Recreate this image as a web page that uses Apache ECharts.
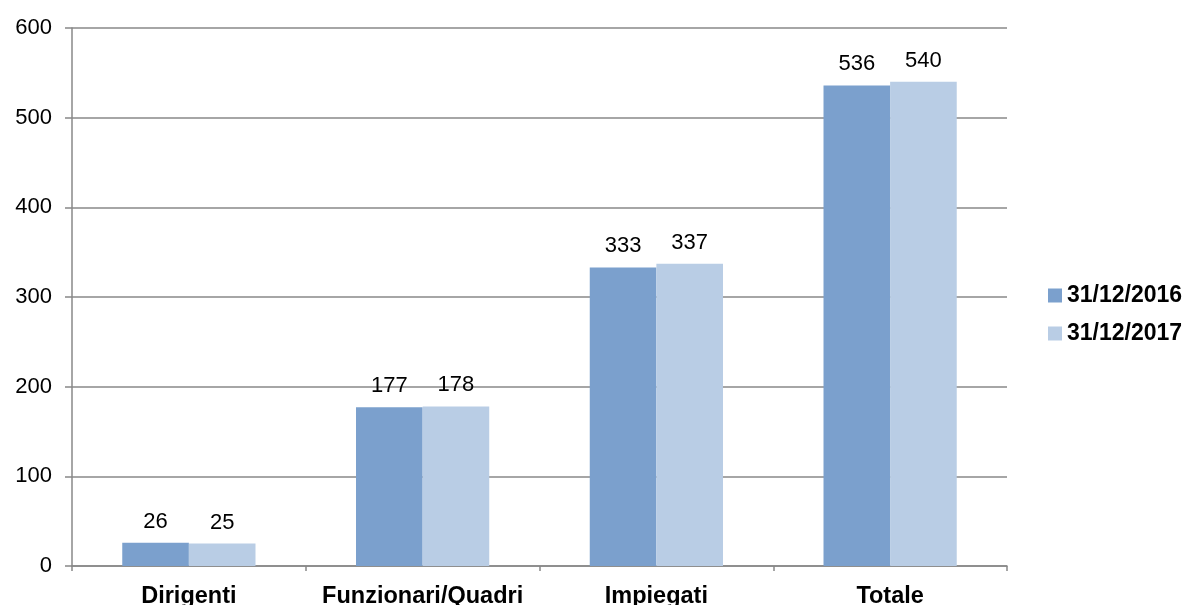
<!DOCTYPE html>
<html><head><meta charset="utf-8">
<script src="https://cdn.jsdelivr.net/npm/echarts@6/dist/echarts.min.js"></script>
<style>html,body{margin:0;padding:0;background:#fff}#c{width:1184px;height:605px}</style>
</head><body><div id="c"></div>
<script>
const categories = ['Dirigenti', 'Funzionari/Quadri', 'Impiegati', 'Totale'];
const series2016 = [26, 177, 333, 536];
const series2017 = [25, 178, 337, 540];
const seriesNames = ['31/12/2016', '31/12/2017'];
const yTicks = [0, 100, 200, 300, 400, 500, 600];

const chart = echarts.init(document.getElementById('c'));
const font = '"Liberation Sans", Arial, sans-serif';
const lbl = {show: true, position: 'top', color: '#000', fontSize: 22, fontFamily: font, distance: 10};
chart.setOption({
  animation: false,
  grid: {left: 72, right: 177, top: 28, bottom: 39, containLabel: false, outerBoundsMode: 'none'},
  legend: {
    orient: 'vertical', left: 1043, top: 279, itemWidth: 14, itemHeight: 14, itemGap: 15,
    icon: 'rect',
    textStyle: {fontSize: 23, fontWeight: 'bold', color: '#000', fontFamily: font},
    data: seriesNames
  },
  xAxis: {
    type: 'category', data: categories,
    axisLine: {lineStyle: {color: '#888', width: 1.5}},
    axisTick: {show: true, length: 5, lineStyle: {color: '#888', width: 1.5}},
    axisLabel: {interval: 0, fontSize: 23.5, fontWeight: 'bold', color: '#000', fontFamily: font, margin: 19}
  },
  yAxis: {
    type: 'value', min: yTicks[0], max: yTicks[yTicks.length - 1], interval: 100,
    axisLine: {show: true, lineStyle: {color: '#888', width: 1.5}},
    axisTick: {show: true, length: 7, lineStyle: {color: '#888', width: 1.5}},
    splitLine: {lineStyle: {color: '#888', width: 1.5}},
    axisLabel: {fontSize: 22, color: '#000', fontFamily: font, margin: 20}
  },
  series: [
    {name: seriesNames[0], type: 'bar', data: series2016, barGap: '0%', barCategoryGap: '43%',
     itemStyle: {color: '#7ba0cd'}, label: lbl},
    {name: seriesNames[1], type: 'bar', data: series2017, barGap: '0%', barCategoryGap: '43%',
     itemStyle: {color: '#b9cde5'}, label: lbl}
  ]
});
</script></body></html>
